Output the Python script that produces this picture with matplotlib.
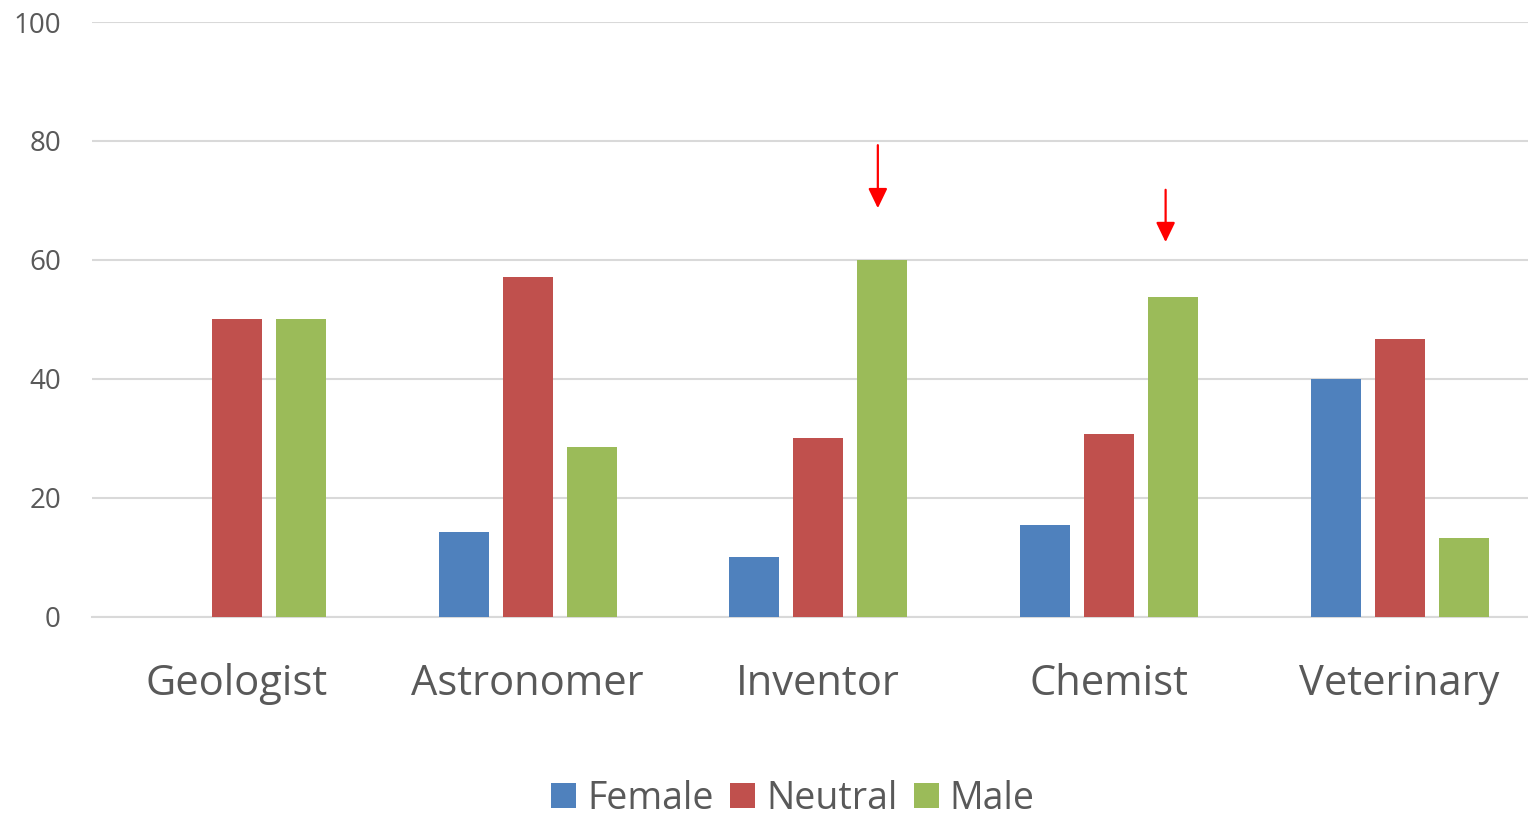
import numpy as np
import matplotlib
matplotlib.use("Agg")
from matplotlib import pyplot as plt

categories = ["Geologist", "Astronomer", "Inventor", "Chemist", "Veterinary"]
series = ["Female", "Neutral", "Male"]
female = [0, 14.3, 10.0, 15.4, 40.0]
neutral = [50.0, 57.1, 30.0, 30.8, 46.7]
male = [50.0, 28.6, 60.0, 53.8, 13.3]
colors = ["#4F81BD", "#C0504D", "#9BBB59"]

# arrows pointing at the male bars of Inventor and Chemist (start, tip in data units)
arrow_cats = [2, 3]
arrow_start = [79.3, 71.8]
arrow_tip = [68.7, 63.0]

plt.rcParams['font.family'] = ['Open Sans', 'DejaVu Sans']
txt = "#595959"

fig = plt.figure(figsize=(15.28, 8.15), dpi=100)
# plot area runs a little past the right edge, as in the cropped original
ax = fig.add_axes([0.0599, 0.243, 0.9512, 0.730])

x = np.arange(len(categories))
step = 0.220
width = 0.172
for i, (name, vals) in enumerate(zip(series, [female, neutral, male])):
    ax.bar(x + (i - 1) * step, vals, width, color=colors[i], label=name, zorder=3)

for c, s, t, off in zip(arrow_cats, arrow_start, arrow_tip, [0.205, 0.195]):
    xa = c + off
    ax.annotate("", xy=(xa, t), xytext=(xa, s),
                arrowprops=dict(arrowstyle="-|>,head_length=0.6,head_width=0.29",
                                mutation_scale=20, color="red", lw=1.6,
                                shrinkA=0, shrinkB=0),
                zorder=5)

ax.set_xlim(-0.5, len(categories) - 0.5)
ax.set_ylim(0, 100)
ax.set_yticks(range(0, 101, 20))
ax.yaxis.grid(True, color="#D9D9D9", lw=1.5, zorder=0)
for sp in ["top", "right", "left"]:
    ax.spines[sp].set_visible(False)
ax.spines["bottom"].set_color("#D9D9D9")
ax.spines["bottom"].set_linewidth(1.5)
ax.tick_params(axis="both", length=0, colors=txt)
ax.tick_params(axis="y", labelsize=20, pad=22)
ax.set_xticks(x)
ax.set_xticklabels(categories, fontsize=30)
ax.tick_params(axis="x", pad=33)

fig.legend(loc="center", bbox_to_anchor=(0.519, 0.02), ncol=3, frameon=False,
           fontsize=27, handlelength=0.65, handleheight=0.65, handletextpad=0.3,
           columnspacing=0.45, labelcolor=txt)

fig.savefig("out.png", dpi=100)
